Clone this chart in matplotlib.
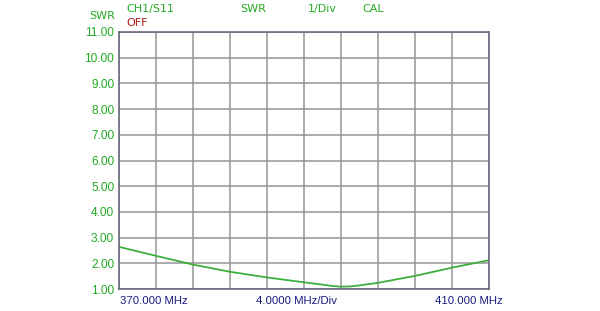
import matplotlib
matplotlib.use('Agg')
import matplotlib.pyplot as plt
from matplotlib.ticker import FormatStrFormatter

# frequency (MHz) and SWR
freq = [370, 374, 378, 382, 386, 390, 392, 393, 394, 395, 396, 398, 402, 406, 410]
swr = [2.64, 2.29, 1.95, 1.67, 1.45, 1.26, 1.17, 1.12, 1.09, 1.10, 1.14, 1.24, 1.51, 1.83, 2.12]

yticks = [1, 2, 3, 4, 5, 6, 7, 8, 9, 10, 11]
xticks = [370, 374, 378, 382, 386, 390, 394, 398, 402, 406, 410]

green = '#22aa22'
navy = '#1a1a80'
W, H = 600, 311

def px(x, y):
    return x / W, 1 - y / H

fig = plt.figure(figsize=(6, 3.11), dpi=100)
ax = fig.add_axes([119 / W, 1 - 289 / H, 370 / W, 257 / H])

ax.plot(freq, swr, color='#3cb03c', linewidth=1.3)

ax.set_xlim(370, 410)
ax.set_ylim(1, 11)
ax.set_xticks(xticks)
ax.set_yticks(yticks)
ax.set_xticklabels([])
ax.yaxis.set_major_formatter(FormatStrFormatter('%.2f'))
ax.tick_params(length=0, pad=3.5)
ax.tick_params(axis='y', labelcolor=green, labelsize=8.6)
for lab in ax.get_yticklabels():
    lab.set_family('Liberation Sans')
ax.grid(True, color='#959595', linewidth=1.1)
for s in ax.spines.values():
    s.set_color('#6a6a80')
    s.set_linewidth(1.2)

hdr = dict(family='DejaVu Sans', fontsize=8, va='center', ha='left')
fig.text(*px(89, 16), 'SWR', color=green, **hdr)
fig.text(*px(126, 9), 'CH1/S11', color=green, **hdr)
fig.text(*px(126, 22.5), 'OFF', color='#aa1515', **hdr)
fig.text(*px(240, 9), 'SWR', color=green, **hdr)
fig.text(*px(308, 9), '1/Div', color=green, **hdr)
fig.text(*px(362, 9), 'CAL', color=green, **hdr)

bot = dict(family='Liberation Sans', fontsize=8.2, va='center', color=navy)
fig.text(*px(120, 301), '370.000 MHz', ha='left', **bot)
fig.text(*px(296, 301), '4.0000 MHz/Div', ha='center', **bot)
fig.text(*px(503, 301), '410.000 MHz', ha='right', **bot)

fig.savefig('out.png', dpi=100)
